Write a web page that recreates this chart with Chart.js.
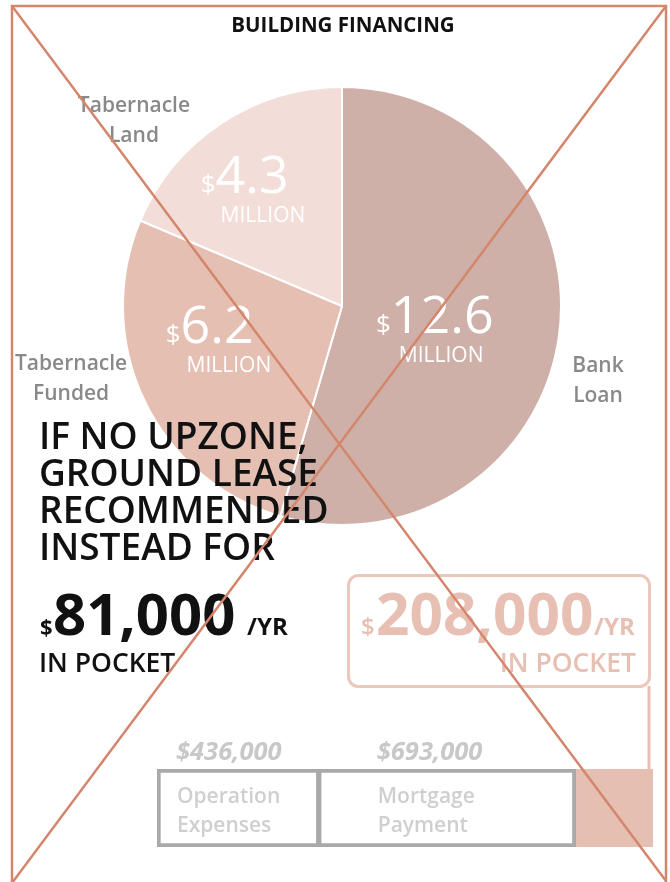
<!DOCTYPE html>
<html>
<head>
<meta charset="utf-8">
<script src="https://cdn.jsdelivr.net/npm/chart.js@4"></script>
<style>
  html, body { margin: 0; padding: 0; background: #fff; }
  #page { position: relative; width: 670px; height: 882px; overflow: hidden; background: #fff; }
  #page canvas, #page svg { position: absolute; left: 0; top: 0; }
  svg { pointer-events: none; }
  svg text { font-family: "Open Sans", sans-serif; }
</style>
</head>
<body>
<div id="page">
  <canvas id="pie" width="670" height="882"></canvas>
  <canvas id="bar" width="670" height="882"></canvas>
  <svg width="670" height="882" viewBox="0 0 670 882">
    <text x="343" y="32" text-anchor="middle" font-size="20.5" font-weight="700" fill="#111">BUILDING FINANCING</text>

    <g fill="#111" font-weight="600" font-size="37">
      <text x="39" y="449">IF NO UPZONE,</text>
      <text x="39" y="486">GROUND LEASE</text>
      <text x="39" y="523">RECOMMENDED</text>
      <text x="39" y="560">INSTEAD FOR</text>
    </g>
    <text y="635" fill="#111" font-weight="700"><tspan x="40" font-size="22">$</tspan><tspan x="53" font-size="58">81,000</tspan><tspan x="247" font-size="24">/YR</tspan></text>
    <text x="39" y="672" fill="#111" font-weight="600" font-size="26.5">IN POCKET</text>

    <rect x="348.5" y="575.5" width="301" height="111" rx="10" ry="10" fill="none" stroke="#ebc7bc" stroke-width="3"/>
    <text y="635" fill="#e8c0b3" font-weight="700"><tspan x="361" font-size="24" font-weight="600">$</tspan><tspan x="376" font-size="58.5">208,000</tspan><tspan x="594" font-size="24">/YR</tspan></text>
    <text x="636" y="672" text-anchor="end" fill="#e8c0b3" font-weight="600" font-size="26.5">IN POCKET</text>
    <line x1="649" y1="686" x2="649" y2="770" stroke="#e8c0b3" stroke-width="3"/>

    <g stroke="#d4866c" stroke-width="2.5" fill="none">
      <rect x="12" y="6" width="654" height="890"/>
      <line x1="12" y1="6" x2="666" y2="881"/>
      <line x1="666" y1="6" x2="12" y2="883"/>
    </g>
  </svg>
</div>
<script>
// Building financing, in millions of dollars
const sources = ['Bank\nLoan', 'Tabernacle\nFunded', 'Tabernacle\nLand'];
const amounts = [12.6, 6.2, 4.3];
const sliceColors = ['#ceb0a8', '#e5bfb2', '#f2ddd8'];

// Yearly budget split, in dollars
const budgetItems = ['Operation\nExpenses', 'Mortgage\nPayment', 'In Pocket'];
const budgetValues = [436000, 693000, 208000];

// Label placement, in units of the pie radius from its centre
const amountAnchor = [[0.155, 0.123], [-0.805, 0.169], [-0.645, -0.516]];
const nameAnchor = [[1.169, 0.301], [-1.237, 0.292], [-0.95, -0.886]];
// Label offsets from the left edge of each budget segment (px)
const budgetLabelInset = [19, 58];

const FONT = '"Open Sans", sans-serif';

const pieText = {
  id: 'pieText',
  afterDatasetsDraw(chart) {
    const ctx = chart.ctx;
    const arcs = chart.getDatasetMeta(0).data;
    ctx.save();
    ctx.textBaseline = 'alphabetic';
    arcs.forEach((arc, i) => {
      const { x, y, outerRadius: r } = arc.getProps(['x', 'y', 'outerRadius'], true);
      // amount inside the slice
      const ax = x + amountAnchor[i][0] * r;
      const ay = y + amountAnchor[i][1] * r;
      ctx.fillStyle = '#ffffff';
      ctx.textAlign = 'left';
      ctx.font = '400 26px ' + FONT;
      ctx.fillText('$', ax, ay);
      const nx = ax + ctx.measureText('$').width;
      ctx.font = '400 52px ' + FONT;
      const num = amounts[i].toFixed(1);
      const m = ctx.measureText(num);
      ctx.fillText(num, nx, ay);
      const inkLeft = nx - m.actualBoundingBoxLeft;
      ctx.font = '400 21px ' + FONT;
      ctx.fillText('MILLION', inkLeft + 4, ay + 29);
      // source name outside the pie
      const lx = x + nameAnchor[i][0] * r;
      const ly = y + nameAnchor[i][1] * r;
      ctx.fillStyle = '#898989';
      ctx.textAlign = 'center';
      ctx.font = '600 21px ' + FONT;
      sources[i].split('\n').forEach((line, k) => ctx.fillText(line, lx, ly + k * 30));
    });
    ctx.restore();
  }
};

new Chart(document.getElementById('pie'), {
  type: 'pie',
  data: {
    labels: sources.map(s => s.replace('\n', ' ')),
    datasets: [{
      data: amounts,
      backgroundColor: sliceColors,
      borderColor: '#ffffff',
      borderWidth: 2,
      hoverOffset: 0
    }]
  },
  options: {
    responsive: false,
    devicePixelRatio: 1,
    animation: false,
    events: [],
    layout: { padding: { left: 122, right: 108, top: 86, bottom: 356 } },
    plugins: { legend: { display: false }, tooltip: { enabled: false }, title: { display: false } }
  },
  plugins: [pieText]
});

const budgetText = {
  id: 'budgetText',
  afterDatasetsDraw(chart) {
    const ctx = chart.ctx;
    ctx.save();
    ctx.textAlign = 'left';
    ctx.textBaseline = 'alphabetic';
    budgetLabelInset.forEach((inset, i) => {
      const bar = chart.getDatasetMeta(i).data[0];
      const { x, base, y, height } = bar.getProps(['x', 'base', 'y', 'height'], true);
      const left = Math.min(x, base);
      const top = y - height / 2;
      ctx.fillStyle = '#c8c8c8';
      ctx.font = 'italic 700 25.5px ' + FONT;
      ctx.fillText('$' + budgetValues[i].toLocaleString('en-US'), left + inset, top - 9);
      ctx.fillStyle = '#cfcfcf';
      ctx.font = '600 21px ' + FONT;
      budgetItems[i].split('\n').forEach((line, k) => ctx.fillText(line, left + inset + 1, top + 34 + k * 29));
    });
    ctx.restore();
  }
};

const total = budgetValues.reduce((a, b) => a + b, 0);
new Chart(document.getElementById('bar'), {
  type: 'bar',
  data: {
    labels: ['Budget'],
    datasets: [
      { label: budgetItems[0], data: [budgetValues[0]], backgroundColor: '#ffffff', borderColor: '#a9a9a9',
        borderWidth: { left: 4, top: 4, bottom: 4, right: 3 }, borderSkipped: false },
      { label: budgetItems[1], data: [budgetValues[1]], backgroundColor: '#ffffff', borderColor: '#a9a9a9',
        borderWidth: { left: 3, top: 4, bottom: 4, right: 4 }, borderSkipped: false },
      { label: budgetItems[2], data: [budgetValues[2]], backgroundColor: '#e5bfb2', borderWidth: 0 }
    ]
  },
  options: {
    indexAxis: 'y',
    responsive: false,
    devicePixelRatio: 1,
    animation: false,
    events: [],
    layout: { padding: { left: 157, right: 17, top: 769, bottom: 35 } },
    datasets: { bar: { barPercentage: 1, categoryPercentage: 1 } },
    scales: {
      x: { stacked: true, min: 0, max: total, display: false },
      y: { stacked: true, display: false }
    },
    plugins: { legend: { display: false }, tooltip: { enabled: false } }
  },
  plugins: [budgetText]
});
</script>
</body>
</html>
